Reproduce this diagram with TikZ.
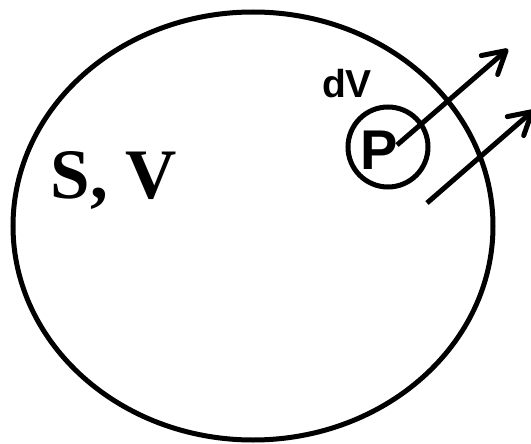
\documentclass[tikz,border=0pt]{standalone}
\usepackage{fontspec}
\setmainfont{Liberation Serif}
\newfontfamily\labelfont{Liberation Sans}
\usetikzlibrary{arrows.meta}
\begin{document}
\begin{tikzpicture}[
    x=1pt, y=-1pt,
    line width=5pt,
    every node/.style={
        inner sep=0pt,
    },
    normal/.style={
        -{Straight Barb[length=22pt, width=25pt, line cap=round, line join=round]},
    },
    ]
    \useasboundingbox (0,0) rectangle (531,444);
    % surface S enclosing volume V
    \draw (253,226) ellipse [x radius=240, y radius=214];
    \node (sv) at (114,180) {\fontsize{71}{71}\selectfont\bfseries S, V};
    % volume element around P
    \node[circle, draw, minimum size=80pt] (dv) at (388,147) {};
    \node (p) at (379,150) {\labelfont\fontsize{56}{56}\selectfont\bfseries P};
    \node (dvlabel) at (347,84) {\labelfont\fontsize{39}{39}\selectfont\bfseries dV};
    % outward arrows
    \coordinate (from1) at (397,145);
    \coordinate (to1) at (508,49);
    \coordinate (from2) at (427,203);
    \coordinate (to2) at (534,110);
    \draw[normal] (from1) -- (to1);
    \draw[normal] (from2) -- (to2);
\end{tikzpicture}
\end{document}
